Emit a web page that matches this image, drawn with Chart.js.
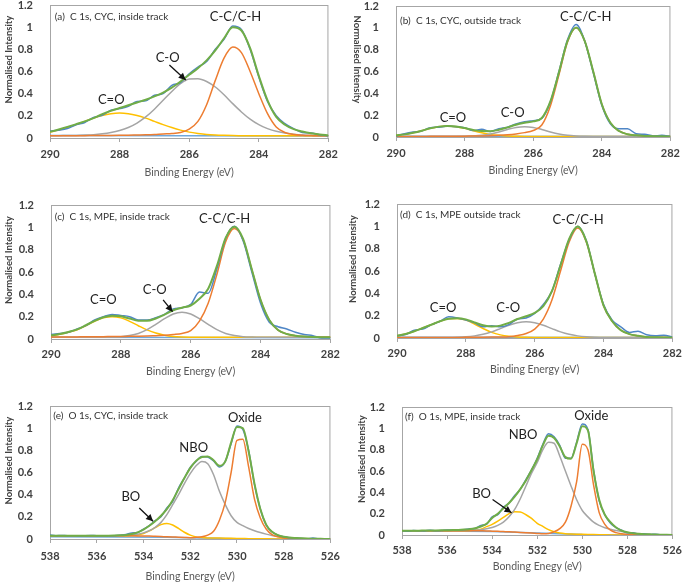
<!DOCTYPE html>
<html><head><meta charset="utf-8">
<script src="https://cdn.jsdelivr.net/npm/chart.js@4.4.0/dist/chart.umd.min.js"></script>
<style>
html,body{margin:0;padding:0;background:#fff;width:685px;height:583px;overflow:hidden;position:relative}
canvas{position:absolute}
</style></head><body>
<script>
// ---------- x grids (binding energy, eV) ----------
const C_X = [290,289.75,289.5,289.25,289,288.75,288.5,288.25,288,287.75,287.5,287.25,287,286.75,286.5,286.25,286,285.75,285.5,285.25,285,284.75,284.5,284.25,284,283.75,283.5,283.25,283,282.75,282.5,282.25,282];
const O_X = [538,537.75,537.5,537.25,537,536.75,536.5,536.25,536,535.75,535.5,535.25,535,534.75,534.5,534.25,534,533.75,533.5,533.25,533,532.75,532.5,532.25,532,531.75,531.5,531.25,531,530.75,530.5,530.25,530,529.75,529.5,529.25,529,528.75,528.5,528.25,528,527.75,527.5,527.25,527,526.75,526.5,526.25,526];
const C_TICKS = [290,288,286,284,282];
const O_TICKS = [538,536,534,532,530,528,526];

// ---------- (a) C 1s, CYC, inside track ----------
const A_blue   = [0.062,0.07,0.085,0.12,0.14,0.185,0.205,0.25,0.265,0.285,0.33,0.335,0.385,0.4,0.475,0.5,0.58,0.64,0.69,0.8,0.89,1.01,0.98,0.8,0.55,0.33,0.2,0.13,0.085,0.05,0.045,0.03,0.02];
const A_green  = [0.055,0.077,0.1,0.125,0.15,0.18,0.215,0.245,0.27,0.295,0.32,0.345,0.375,0.41,0.455,0.51,0.57,0.63,0.7,0.79,0.9,1.0,0.97,0.81,0.56,0.34,0.19,0.12,0.08,0.058,0.042,0.032,0.025];
const A_orange = [0.02,0.02,0.02,0.021,0.021,0.022,0.022,0.023,0.024,0.025,0.027,0.029,0.032,0.037,0.04,0.05,0.08,0.15,0.3,0.52,0.72,0.82,0.77,0.6,0.4,0.22,0.1,0.05,0.032,0.025,0.022,0.02,0.02];
const A_gray   = [0.02,0.021,0.022,0.023,0.026,0.03,0.038,0.05,0.068,0.095,0.135,0.19,0.26,0.34,0.42,0.49,0.532,0.535,0.51,0.46,0.39,0.31,0.235,0.17,0.12,0.085,0.06,0.045,0.035,0.028,0.024,0.022,0.02];
const A_yellow = [0.053,0.071,0.094,0.121,0.15,0.179,0.203,0.219,0.225,0.219,0.203,0.179,0.15,0.121,0.094,0.071,0.053,0.041,0.032,0.027,0.024,0.022,0.021,0.02,0.02,0.02,0.02,0.02,0.02,0.02,0.02,0.02,0.02];
const A_base_x = [290,282];
const A_base   = [0.022,0.018];

// ---------- (b) C 1s, CYC, outside track ----------
const B_blue   = [0.01,0.03,0.045,0.055,0.085,0.09,0.1,0.095,0.085,0.06,0.07,0.05,0.075,0.09,0.12,0.14,0.15,0.17,0.32,0.6,0.89,1.03,0.88,0.59,0.29,0.12,0.075,0.075,0.03,0.025,0.01,0.015,0.005];
const B_green  = [0.015,0.024,0.039,0.058,0.08,0.095,0.101,0.096,0.082,0.065,0.054,0.053,0.066,0.088,0.113,0.13,0.143,0.174,0.326,0.592,0.88,1.004,0.881,0.6,0.3,0.13,0.055,0.025,0.015,0.01,0.008,0.006,0.005];
const B_orange = [0.005,0.005,0.005,0.005,0.006,0.006,0.007,0.007,0.008,0.009,0.01,0.012,0.015,0.02,0.028,0.04,0.06,0.11,0.285,0.57,0.87,1.0,0.88,0.6,0.3,0.13,0.055,0.025,0.015,0.01,0.008,0.006,0.005];
const B_gray   = [0.005,0.005,0.005,0.005,0.005,0.005,0.005,0.005,0.006,0.009,0.015,0.027,0.046,0.069,0.088,0.095,0.088,0.069,0.046,0.027,0.015,0.009,0.006,0.005,0.005,0.005,0.005,0.005,0.005,0.005,0.005,0.005,0.005];
const B_yellow = [0.015,0.024,0.039,0.058,0.079,0.094,0.1,0.094,0.079,0.058,0.039,0.024,0.015,0.009,0.007,0.005,0.005,0.005,0.005,0.005,0.005,0.005,0.005,0.005,0.005,0.005,0.005,0.005,0.005,0.005,0.005,0.005,0.005];
const B_base_x = [290,282];
const B_base   = [0.006,0.004];

// ---------- (c) C 1s, MPE, inside track ----------
const C_blue   = [0.04,0.05,0.06,0.09,0.12,0.17,0.2,0.22,0.21,0.2,0.17,0.17,0.19,0.22,0.27,0.28,0.31,0.42,0.41,0.63,0.9,1.01,0.88,0.6,0.32,0.15,0.11,0.09,0.06,0.04,0.03,0.01,0.01];
const C_green  = [0.033,0.045,0.063,0.086,0.124,0.163,0.195,0.209,0.203,0.183,0.164,0.163,0.184,0.219,0.257,0.28,0.3,0.36,0.45,0.655,0.905,1.006,0.896,0.622,0.35,0.17,0.08,0.045,0.03,0.022,0.018,0.016,0.015];
const C_orange = [0.018,0.018,0.018,0.019,0.02,0.02,0.021,0.022,0.023,0.024,0.025,0.027,0.03,0.033,0.04,0.05,0.075,0.16,0.32,0.58,0.87,0.99,0.89,0.62,0.35,0.17,0.08,0.045,0.03,0.022,0.018,0.016,0.015];
const C_gray   = [0.015,0.015,0.015,0.015,0.015,0.015,0.015,0.017,0.021,0.031,0.05,0.084,0.131,0.182,0.224,0.24,0.224,0.182,0.131,0.084,0.05,0.031,0.021,0.017,0.015,0.015,0.015,0.015,0.015,0.015,0.015,0.015,0.015];
const C_yellow = [0.03,0.042,0.06,0.082,0.119,0.158,0.189,0.2,0.189,0.158,0.119,0.082,0.053,0.034,0.023,0.018,0.016,0.015,0.015,0.015,0.015,0.015,0.015,0.015,0.015,0.015,0.015,0.015,0.015,0.015,0.015,0.015,0.015];
const C_base_x = [290,282];
const C_base   = [0.016,0.012];

// ---------- (d) C 1s, MPE outside track ----------
const D_blue   = [0.02,0.03,0.07,0.08,0.12,0.15,0.19,0.18,0.16,0.135,0.1,0.11,0.1,0.12,0.17,0.18,0.22,0.3,0.42,0.66,0.88,1.0,0.87,0.57,0.3,0.16,0.1,0.05,0.06,0.03,0.02,0.025,0.01];
const D_green  = [0.02,0.035,0.06,0.09,0.12,0.15,0.172,0.177,0.167,0.14,0.115,0.103,0.111,0.135,0.17,0.195,0.225,0.285,0.419,0.65,0.888,0.999,0.866,0.572,0.29,0.15,0.07,0.035,0.02,0.01,0.007,0.005,0.005];
const D_orange = [0.005,0.005,0.005,0.005,0.005,0.005,0.005,0.005,0.006,0.006,0.007,0.008,0.009,0.012,0.022,0.04,0.08,0.17,0.34,0.6,0.86,0.985,0.86,0.57,0.29,0.15,0.07,0.035,0.02,0.01,0.007,0.005,0.005];
const D_gray   = [0.005,0.005,0.005,0.005,0.005,0.005,0.005,0.007,0.011,0.019,0.033,0.055,0.084,0.114,0.136,0.145,0.136,0.114,0.084,0.055,0.033,0.019,0.011,0.007,0.005,0.005,0.005,0.005,0.005,0.005,0.005,0.005,0.005];
const D_yellow = [0.02,0.035,0.06,0.09,0.12,0.15,0.172,0.175,0.16,0.125,0.085,0.05,0.028,0.015,0.009,0.006,0.005,0.005,0.005,0.005,0.005,0.005,0.005,0.005,0.005,0.005,0.005,0.005,0.005,0.005,0.005,0.005,0.005];
const D_base_x = [290,282];
const D_base   = [0.006,0.004];

// ---------- (e) O 1s, CYC, inside track ----------
const E_blue   = [0.035,0.03,0.032,0.03,0.03,0.028,0.03,0.031,0.03,0.03,0.029,0.03,0.034,0.04,0.055,0.058,0.09,0.12,0.165,0.2,0.28,0.34,0.46,0.55,0.645,0.7,0.745,0.74,0.705,0.65,0.7,0.86,1.02,0.99,0.8,0.49,0.27,0.125,0.065,0.035,0.02,0.012,0.01,0.005,0.003,0.008,0.002,0.001,0.001];
const E_green  = [0.03,0.03,0.03,0.03,0.03,0.03,0.03,0.03,0.03,0.03,0.03,0.031,0.033,0.037,0.045,0.06,0.085,0.12,0.16,0.21,0.27,0.35,0.45,0.55,0.64,0.705,0.74,0.745,0.71,0.66,0.7,0.87,1.01,1.0,0.79,0.5,0.27,0.13,0.065,0.035,0.02,0.013,0.009,0.006,0.004,0.003,0.002,0.001,0.001];
const E_orange = [0.03,0.03,0.03,0.03,0.03,0.03,0.03,0.03,0.03,0.03,0.03,0.03,0.03,0.03,0.029,0.028,0.027,0.026,0.024,0.022,0.02,0.018,0.016,0.014,0.012,0.015,0.02,0.035,0.07,0.17,0.33,0.6,0.89,0.9,0.65,0.36,0.19,0.09,0.04,0.02,0.01,0.005,0.003,0.002,0.001,0,0,0,0];
const E_gray   = [0.03,0.03,0.03,0.03,0.03,0.03,0.03,0.03,0.03,0.03,0.03,0.03,0.03,0.033,0.036,0.042,0.055,0.075,0.105,0.15,0.22,0.31,0.4,0.5,0.59,0.66,0.7,0.68,0.58,0.43,0.31,0.21,0.15,0.12,0.095,0.075,0.058,0.044,0.032,0.023,0.016,0.011,0.007,0.005,0.003,0.002,0.001,0,0];
const E_yellow = [0.03,0.03,0.03,0.03,0.03,0.03,0.03,0.03,0.03,0.03,0.03,0.03,0.03,0.03,0.032,0.037,0.05,0.073,0.103,0.13,0.14,0.126,0.095,0.061,0.035,0.019,0.013,0.01,0.009,0.008,0.007,0.006,0.005,0.004,0.003,0.003,0.002,0.002,0.001,0.001,0,0,0,0,0,0,0,0,0];
const E_base_x = [538,535,533,531.5,530,528,526];
const E_base   = [0.02,0.019,0.015,0.009,0.003,0,0];

// ---------- (f) O 1s, MPE, inside track ----------
const F_blue   = [0.04,0.035,0.042,0.04,0.038,0.045,0.04,0.042,0.048,0.045,0.05,0.05,0.058,0.06,0.09,0.1,0.17,0.19,0.26,0.3,0.37,0.43,0.52,0.61,0.72,0.85,0.95,0.92,0.84,0.72,0.72,0.87,1.04,0.99,0.61,0.32,0.19,0.11,0.07,0.045,0.02,0.02,0.01,0.012,0.004,0.008,0.002,0.003,0.001];
const F_green  = [0.04,0.04,0.041,0.041,0.042,0.042,0.043,0.044,0.045,0.046,0.048,0.051,0.055,0.063,0.08,0.105,0.16,0.2,0.25,0.3,0.36,0.43,0.51,0.61,0.71,0.84,0.93,0.91,0.83,0.73,0.715,0.86,1.02,0.98,0.6,0.33,0.19,0.12,0.07,0.04,0.025,0.017,0.012,0.008,0.006,0.004,0.003,0.002,0.001];
const F_orange = [0.04,0.04,0.04,0.04,0.04,0.04,0.04,0.04,0.04,0.04,0.04,0.04,0.04,0.04,0.039,0.038,0.036,0.034,0.032,0.03,0.027,0.024,0.021,0.018,0.015,0.012,0.015,0.03,0.06,0.12,0.27,0.5,0.85,0.8,0.47,0.21,0.1,0.045,0.022,0.012,0.007,0.004,0.002,0.001,0,0,0,0,0];
const F_gray   = [0.04,0.04,0.04,0.04,0.04,0.04,0.04,0.04,0.04,0.04,0.041,0.042,0.044,0.046,0.05,0.058,0.07,0.09,0.12,0.17,0.24,0.34,0.46,0.58,0.68,0.8,0.87,0.86,0.74,0.6,0.46,0.33,0.23,0.17,0.12,0.09,0.068,0.054,0.042,0.032,0.024,0.017,0.012,0.008,0.005,0.003,0.002,0.001,0];
const F_yellow = [0.04,0.04,0.04,0.04,0.04,0.04,0.04,0.04,0.04,0.04,0.04,0.041,0.043,0.047,0.055,0.078,0.1,0.13,0.165,0.2,0.218,0.215,0.19,0.155,0.11,0.08,0.05,0.03,0.018,0.012,0.009,0.007,0.006,0.005,0.004,0.003,0.002,0.001,0,0,0,0,0,0,0,0,0,0,0];
const F_base_x = [538,534,532,530,528,526];
const F_base   = [0.04,0.033,0.018,0.004,0,0];

// ---------- text ----------
const TITLES = {
  a:'(a)  C 1s, CYC, inside track', b:'(b)  C 1s, CYC, outside track', c:'(c)  C 1s, MPE, inside track',
  d:'(d)  C 1s, MPE outside track', e:'(e)  O 1s, CYC, inside track', f:'(f)  O 1s, MPE, inside track'
};
const X_TITLES = {a:'Binding Energy (eV)', b:'Binding Energy (eV)', c:'Binding Energy (eV)', d:'Binding Energy (eV)', e:'Binding Energy (eV)', f:'Bonding Enegy (eV)'};
const Y_TITLE = 'Normalised Intensity';
// peak labels: [text, energy, intensity]
const LABELS = {
  a:[['C-C/C-H',284.67,1.095],['C-O',286.62,0.72],['C=O',288.24,0.345]],
  b:[['C-C/C-H',284.47,1.1],['C-O',286.6,0.217],['C=O',288.34,0.18]],
  c:[['C-C/C-H',285.03,1.08],['C-O',287.03,0.44],['C=O',288.5,0.35]],
  d:[['C-C/C-H',284.74,1.056],['C-O',286.77,0.266],['C=O',288.66,0.266]],
  e:[['Oxide',529.66,1.094],['NBO',531.85,0.823],['BO',534.54,0.377]],
  f:[['Oxide',529.6,1.113],['NBO',532.63,0.94],['BO',534.47,0.386]]
};
// title anchor [energy, intensity]
const TITLE_POS = {a:[289.86,1.095], b:[289.88,1.065], c:[289.89,1.095], d:[289.91,1.1], e:[537.86,1.108], f:[537.87,1.104]};
// arrows [fromE, fromI, toE, toI]
const ARROWS = {
  a:[[286.57,0.659,286.1,0.523]],
  c:[[286.79,0.35,286.52,0.245]],
  e:[[534.18,0.28,533.59,0.16]],
  f:[[533.98,0.333,533.14,0.208]]
};

// ---------- layout / style (not data) ----------
const COL = {blue:'#4F86C6', green:'#70AD47', orange:'#ED7D31', gray:'#A5A5A5', yellow:'#FFC000', base:'#6FA8DC'};
const FONT = 'Lato, "Open Sans", "DejaVu Sans", sans-serif';
const PANELS = [
  {k:'a', rect:[50,5,330,138],  xs:C_X, ticks:C_TICKS, min:282, max:290, d:[A_green,A_blue,A_orange,A_gray,A_yellow], bx:A_base_x, b:A_base, xh:47, tp:6, ytx:41.5, yrot:-1},
  {k:'b', rect:[396,6,672,137], xs:C_X, ticks:C_TICKS, min:282, max:290, d:[B_green,B_blue,B_orange,B_gray,B_yellow], bx:B_base_x, b:B_base, xh:46, tp:6, ytx:39, yrot:1},
  {k:'c', rect:[51,205,331,339],xs:C_X, ticks:C_TICKS, min:282, max:290, d:[C_green,C_blue,C_orange,C_gray,C_yellow], bx:C_base_x, b:C_base, xh:45, tp:5, ytx:42.5, yrot:-1},
  {k:'d', rect:[397,204,673,338],xs:C_X, ticks:C_TICKS, min:282, max:290, d:[D_green,D_blue,D_orange,D_gray,D_yellow], bx:D_base_x, b:D_base, xh:44, tp:5, ytx:44, yrot:-1},
  {k:'e', rect:[50,406,333,539],xs:O_X, ticks:O_TICKS, min:526, max:538, d:[E_green,E_blue,E_orange,E_gray,E_yellow], bx:E_base_x, b:E_base, xh:50, tp:7, ytx:41.5, yrot:-1},
  {k:'f', rect:[402,407,673,535],xs:O_X, ticks:O_TICKS, min:526, max:538, d:[F_green,F_blue,F_orange,F_gray,F_yellow], bx:F_base_x, b:F_base, xh:44, tp:5, ytx:40.5, yrot:-1}
];

function arrow(ctx,x1,y1,x2,y2){
  ctx.beginPath();ctx.moveTo(x1,y1);ctx.lineTo(x2,y2);ctx.stroke();
  const a=Math.atan2(y2-y1,x2-x1), hl=7, hw=3.5;
  ctx.beginPath();ctx.moveTo(x2,y2);
  ctx.lineTo(x2-hl*Math.cos(a)+hw*Math.sin(a), y2-hl*Math.sin(a)-hw*Math.cos(a));
  ctx.lineTo(x2-hl*Math.cos(a)-hw*Math.sin(a), y2-hl*Math.sin(a)+hw*Math.cos(a));
  ctx.closePath();ctx.fill();
}

function makeChart(p){
  const PADL=58, PADT=16, PADR=14;
  const [L,T,R,B]=p.rect;
  const w=R-L+PADL+PADR, h=B-T+PADT+p.xh;
  const cv=document.createElement('canvas');
  cv.width=w; cv.height=h;
  cv.style.left=(L-PADL)+'px'; cv.style.top=(T-PADT)+'px';
  cv.style.width=w+'px'; cv.style.height=h+'px';
  document.body.appendChild(cv);
  const pts=(xs,ys)=>xs.map((x,i)=>({x:x,y:ys[i]}));
  const names=['green','blue','orange','gray','yellow'];
  const ds=p.d.map((ys,i)=>({data:pts(p.xs,ys), borderColor:COL[names[i]], borderWidth:names[i]==='green'?2:1.5, pointRadius:0, cubicInterpolationMode:'monotone', fill:false}));
  ds.push({data:pts(p.bx,p.b), borderColor:COL.base, borderWidth:1.5, pointRadius:0, tension:0, fill:false});

  const frame={id:'frame', beforeDatasetsDraw(chart){
    const a=chart.chartArea, c=chart.ctx;
    c.save(); c.strokeStyle='#A6A6A6'; c.lineWidth=1;
    c.strokeRect(a.left+0.5,a.top+0.5,a.right-a.left-1,a.bottom-a.top);
    c.restore();
  }};
  const annot={id:'annot', afterDatasetsDraw(chart){
    const c=chart.ctx, xs=chart.scales.x, ys=chart.scales.y, a=chart.chartArea;
    c.save();
    c.textBaseline='middle';
    c.fillStyle='#333'; c.font='10px '+FONT; c.textAlign='left';
    const tp=TITLE_POS[p.k];
    c.fillText(TITLES[p.k], xs.getPixelForValue(tp[0]), ys.getPixelForValue(tp[1]));
    c.fillStyle='#222'; c.font='13px '+FONT; c.textAlign='center';
    LABELS[p.k].forEach(l=>c.fillText(l[0], xs.getPixelForValue(l[1]), ys.getPixelForValue(l[2])));
    c.strokeStyle='#111'; c.fillStyle='#111'; c.lineWidth=1.3;
    (ARROWS[p.k]||[]).forEach(r=>arrow(c, xs.getPixelForValue(r[0]), ys.getPixelForValue(r[1]), xs.getPixelForValue(r[2]), ys.getPixelForValue(r[3])));
    c.fillStyle='#404040'; c.font='bold 9.5px '+FONT; c.textAlign='center';
    c.translate(a.left-p.ytx, (a.top+a.bottom)/2-12);
    c.rotate(p.yrot*Math.PI/2);
    c.fillText(Y_TITLE,0,0);
    c.restore();
  }};

  new Chart(cv,{
    type:'line',
    data:{datasets:ds},
    options:{
      responsive:false, animation:false, devicePixelRatio:1,
      layout:{padding:{left:0,top:PADT,right:PADR,bottom:0}},
      plugins:{legend:{display:false}, tooltip:{enabled:false}},
      scales:{
        x:{type:'linear', reverse:true, min:p.min, max:p.max,
           afterFit(s){s.height=p.xh;},
           afterBuildTicks(s){s.ticks=p.ticks.map(v=>({value:v}));},
           ticks:{autoSkip:false, maxRotation:0, padding:p.tp, color:'#404040', font:{family:FONT, size:11, weight:'bold'}, callback:v=>String(v)},
           grid:{display:true, drawOnChartArea:false, drawTicks:true, tickLength:4, color:'#A6A6A6'},
           border:{display:true, color:'#A6A6A6'},
           title:{display:true, text:X_TITLES[p.k], color:'#595959', font:{family:FONT, size:10.5}, padding:{top:0,bottom:6}}},
        y:{min:0, max:1.2,
           afterFit(s){s.width=PADL;},
           ticks:{stepSize:0.2, padding:9, color:'#404040', font:{family:FONT, size:11, weight:'bold'}, callback:v=>String(Math.round(v*10)/10)},
           grid:{display:false}, border:{display:true, color:'#A6A6A6'}}
      }
    },
    plugins:[frame, annot]
  });
}
PANELS.forEach(makeChart);
</script>
</body></html>
